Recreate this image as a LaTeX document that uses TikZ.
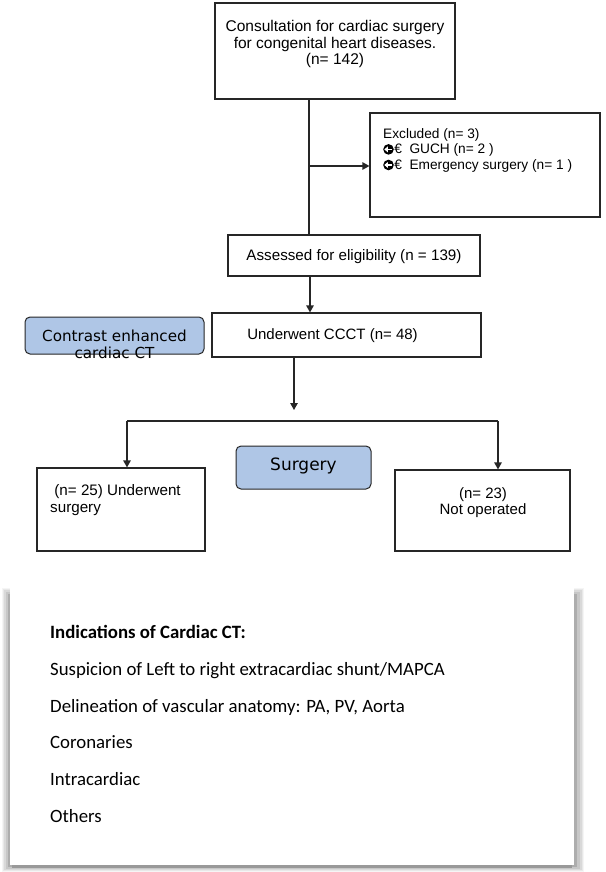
\documentclass[tikz,border=0pt]{standalone}
\usepackage{fontspec}
\setmainfont{Liberation Sans}
\newfontfamily\dvfont{DejaVu Sans}
\newfontfamily\cbfont{Carlito}
\usetikzlibrary{arrows.meta}
\definecolor{boxline}{HTML}{262626}
\definecolor{bluefill}{RGB}{175,198,230}
\newcommand\circarr{\tikz[baseline=-0.6ex,x=1pt,y=1pt]{\fill[black] (0,0) circle (5.3);\draw[white,line width=1.6,-{Triangle[length=3.6,width=5.8]}] (3.4,0)--(-4.2,0);}}
\begin{document}
\begin{tikzpicture}[x=1pt,y=-1pt,
  box/.style={draw=boxline,line width=1.2pt,fill=white,inner sep=0pt},
  bluebox/.style={draw=boxline,line width=1pt,fill=bluefill,rounded corners=5pt,inner sep=0pt},
  txt/.style={inner sep=0pt,align=center},
  conn/.style={draw=boxline,line width=1.2pt},
  arr/.style={conn,-{Triangle[length=7pt,width=7.5pt]}}]
\useasboundingbox (0,0) rectangle (605,872);
\fill[white] (0,0) rectangle (605,872);
% boxes
\node[box,minimum width=240,minimum height=96] (top) at (335,51) {};
\node[txt,font=\fontsize{15.5}{16.6}\selectfont,anchor=north] (toptxt) at (335,20)
  {Consultation for cardiac surgery\\for congenital heart diseases.\\(n= 142)};
\node[box,minimum width=230,minimum height=104] (excl) at (485,165) {};
\node[txt,align=left,anchor=north west,font=\fontsize{13.7}{15.6}\selectfont] (excltxt) at (383,128)
  {Excluded (n= 3)\\\circarr\kern0.5pt\char"20AC\ \ GUCH (n= 2 )\\\circarr\kern0.5pt\char"20AC\ \ Emergency surgery (n= 1 )};
\node[box,minimum width=252,minimum height=41] (elig) at (354,255.5) {};
\node[txt,font=\fontsize{15.2}{17}\selectfont] (eligtxt) at (354,257) {Assessed for eligibility (n = 139)};
\node[box,minimum width=269,minimum height=44] (ccct) at (346.5,335) {};
\node[txt,font=\fontsize{15}{17}\selectfont] (ccctxt) at (332.5,335.5) {Underwent CCCT (n= 48)};
\node[bluebox,minimum width=179,minimum height=37] (contrast) at (114.5,335.5) {};
\node[txt,font=\dvfont\fontsize{15.2}{17}\selectfont,anchor=north] (contrasttxt) at (114.5,329.5)
  {Contrast enhanced\\cardiac CT};
\node[bluebox,minimum width=135,minimum height=43] (surgery) at (303.5,467.5) {};
\node[txt,font=\dvfont\fontsize{17}{19}\selectfont] (surgerytxt) at (303.5,466) {Surgery};
\node[box,minimum width=168,minimum height=83] (leftbox) at (121,509.5) {};
\node[txt,align=left,anchor=north west,font=\fontsize{15.2}{17.5}\selectfont] (lefttxt) at (50,484)
  {\ (n= 25) Underwent\\surgery};
\node[box,minimum width=175,minimum height=81] (rightbox) at (482.5,510.5) {};
\node[txt,anchor=north,font=\fontsize{15}{16.5}\selectfont] (righttxt) at (483,487)
  {(n= 23)\\Not operated};
% connectors
\coordinate (j1) at (309,166);
\coordinate (j2) at (310,290);
\coordinate (j3) at (294,410);
\coordinate (lft) at (127,421);
\coordinate (rgt) at (498,421);
\draw[conn] (top.south -| j1) -- (elig.north -| j1);
\draw[arr] (j1) -- (excl.west |- j1);
\draw[arr] (elig.south -| j2) -- (ccct.north -| j2);
\draw[arr] (ccct.south -| j3) -- (j3);
\draw[conn] (lft) -- (rgt);
\draw[arr] (lft) -- (leftbox.north -| lft);
\draw[arr] (rgt) -- (rightbox.north -| rgt);
% card with shadow
\fill[black!4] (2,588) rectangle (584,872);
\fill[black!9] (3,589) rectangle (583,871);
\fill[black!15] (4,590) rectangle (582,870);
\fill[black!22] (6,592) rectangle (580,869);
\fill[black!32] (8,594) rectangle (577,867);
\fill[black!40] (12,862) rectangle (572,868);
\fill[white] (10,586) rectangle (574,865);
\node[inner sep=0pt,anchor=north west,align=left,font=\cbfont\fontsize{18.8}{36.8}\selectfont] (card) at (50,625)
  {\textbf{Indications of Cardiac CT:}\\
   Suspicion of Left to right extracardiac shunt/MAPCA\\
   Delineation of vascular anatomy: PA, PV, Aorta\\
   Coronaries\\
   Intracardiac\\
   Others};
\end{tikzpicture}
\end{document}
